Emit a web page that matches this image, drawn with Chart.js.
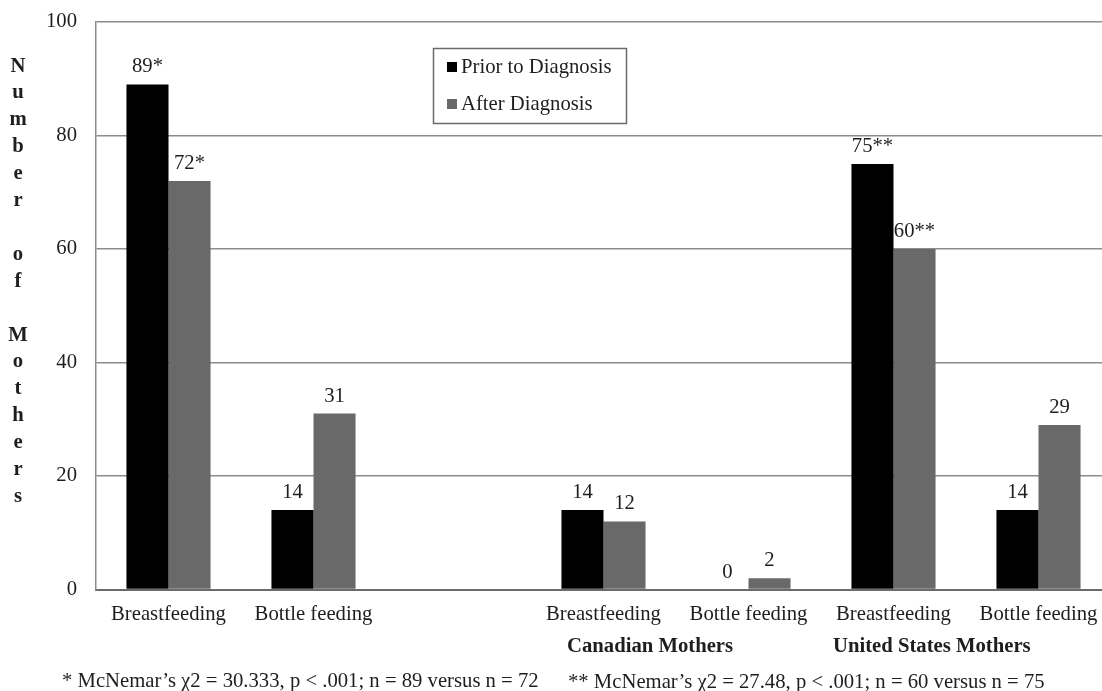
<!DOCTYPE html>
<html><head><meta charset="utf-8">
<script src="https://cdn.jsdelivr.net/npm/chart.js@4.4.0/dist/chart.umd.min.js"></script>
<style>
html,body{margin:0;padding:0;background:#fff;overflow:hidden;}
#wrap{position:relative;width:1102px;height:691px;overflow:hidden;background:#fff;}
#c{position:absolute;left:0;top:0;}
.t{position:absolute;font-family:"Liberation Serif","Times New Roman",serif;color:#1e1e1e;white-space:nowrap;font-size:20.7px;line-height:20px;}
#ytitle{left:7px;top:51.5px;width:22px;text-align:center;font-weight:bold;line-height:26.9px;white-space:normal;}
.g{font-weight:bold;}
</style></head><body>
<div id="wrap">
<canvas id="c" width="1112" height="691" style="width:1112px;height:691px"></canvas>
<div class="t" id="ytitle"></div>
<div class="t g" id="g0" style="left:567px;top:635px"></div>
<div class="t g" id="g1" style="left:833px;top:635px"></div>
<div class="t" id="f0" style="left:62px;top:670px"></div>
<div class="t" id="f1" style="left:568px;top:671px"></div>
</div>
<script>
const categories = ['Breastfeeding','Bottle feeding','','Breastfeeding','Bottle feeding','Breastfeeding','Bottle feeding'];
const priorValues = [89, 14, null, 14, 0, 75, 14];
const afterValues = [72, 31, null, 12, 2, 60, 29];
const priorMarks = ['*', '', '', '', '', '**', ''];
const afterMarks = ['*', '', '', '', '', '**', ''];
const seriesNames = ['Prior to Diagnosis', 'After Diagnosis'];
const yTickValues = [0, 20, 40, 60, 80, 100];
const yTitle = ['N','u','m','b','e','r','','o','f','','M','o','t','h','e','r','s'];
const groupLabels = ['Canadian Mothers', 'United States Mothers'];
const footnotes = ['* McNemar\u2019s \u03C72 = 30.333, p < .001; n = 89 versus n = 72',
                   '** McNemar\u2019s \u03C72 = 27.48, p < .001; n = 60 versus n = 75'];

document.getElementById('ytitle').innerHTML = yTitle.map(l => l === '' ? '&nbsp;' : l).join('<br>');
document.getElementById('g0').textContent = groupLabels[0];
document.getElementById('g1').textContent = groupLabels[1];
document.getElementById('f0').textContent = footnotes[0];
document.getElementById('f1').textContent = footnotes[1];

const FONT = 'Liberation Serif';
const FS = 20.7;
const TXT = '#1e1e1e';
const marks = [priorMarks, afterMarks];

const valueLabels = {
  id: 'valueLabels',
  afterDatasetsDraw(chart) {
    const ctx = chart.ctx;
    ctx.save();
    ctx.font = FS + 'px "' + FONT + '"';
    ctx.fillStyle = TXT;
    ctx.textAlign = 'center';
    ctx.textBaseline = 'alphabetic';
    chart.data.datasets.forEach((ds, di) => {
      const meta = chart.getDatasetMeta(di);
      meta.data.forEach((el, i) => {
        const v = ds.data[i];
        if (v === null || v === undefined) return;
        ctx.fillText(String(v) + marks[di][i], el.x, el.y - 12);
      });
    });
    ctx.restore();
  }
};

const boxLegend = {
  id: 'boxLegend',
  afterDraw(chart) {
    const ctx = chart.ctx;
    ctx.save();
    ctx.fillStyle = '#fff';
    ctx.fillRect(433.5, 48.5, 193, 75);
    ctx.strokeStyle = '#6b6b6b';
    ctx.lineWidth = 1.5;
    ctx.strokeRect(433.5, 48.5, 193, 75);
    ctx.font = FS + 'px "' + FONT + '"';
    ctx.textBaseline = 'middle';
    ctx.textAlign = 'left';
    const rows = [67, 104];
    chart.data.datasets.forEach((ds, i) => {
      ctx.fillStyle = ds.backgroundColor;
      ctx.fillRect(447, rows[i] - 5, 10, 10);
      ctx.fillStyle = TXT;
      ctx.fillText(ds.label, 461, rows[i] + 1);
    });
    ctx.restore();
  }
};

new Chart(document.getElementById('c'), {
  type: 'bar',
  data: {
    labels: categories,
    datasets: [
      { label: seriesNames[0], data: priorValues, backgroundColor: '#000000' },
      { label: seriesNames[1], data: afterValues, backgroundColor: '#696969' }
    ]
  },
  options: {
    responsive: false,
    animation: false,
    devicePixelRatio: 1,
    categoryPercentage: 0.58,
    barPercentage: 1,
    layout: { padding: { left: 0, right: 1, top: 22, bottom: 0 } },
    plugins: { legend: { display: false }, tooltip: { enabled: false } },
    scales: {
      x: {
        grid: { display: false, drawTicks: false },
        border: { display: true, color: '#6b6b6b', width: 2 },
        ticks: { font: { family: FONT, size: FS }, color: TXT, padding: 13, maxRotation: 0, autoSkip: false },
        afterFit(s) { s.height = 101.5; }
      },
      y: {
        min: 0, max: 100,
        afterBuildTicks(s) { s.ticks = yTickValues.map(v => ({ value: v })); },
        ticks: { font: { family: FONT, size: FS }, color: TXT, padding: 0 },
        grid: { color: '#8c8c8c', lineWidth: 1.5, drawTicks: true, tickLength: 19, tickColor: 'rgba(0,0,0,0)' },
        border: { color: '#8c8c8c', width: 1.5 },
        afterFit(s) { s.width = 96; }
      }
    }
  },
  plugins: [valueLabels, boxLegend]
});
</script>
</body></html>
